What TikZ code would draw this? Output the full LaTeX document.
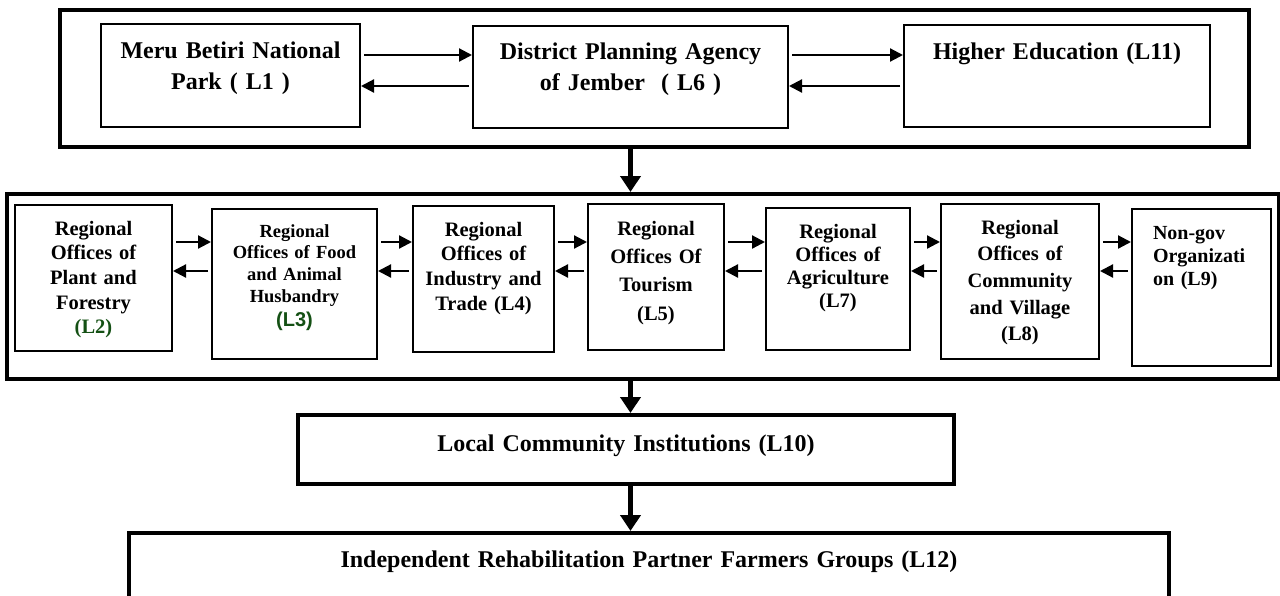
\documentclass[tikz,border=0pt]{standalone}
\usepackage{fontspec}
\setmainfont{Liberation Serif}
\setsansfont{Liberation Sans}
\usepackage{tikz}
\usetikzlibrary{arrows.meta}
\definecolor{dkgreen}{RGB}{20,80,20}

\tikzset{
  unit/.style={draw, line width=2pt, inner sep=0pt, anchor=north west, align=center,
    font=\bfseries\fontsize{20.5}{24.7}\selectfont},
  topunit/.style={unit, font=\bfseries\fontsize{24}{31}\selectfont},
  level/.style={topunit, line width=4pt},
  frame/.style={draw, line width=4pt, inner sep=0pt, anchor=north west},
  link/.style={-{Triangle[length=13pt,width=13pt]}, line width=2.2pt, shorten <=3pt},
  flow/.style={-{Triangle[length=16pt,width=20pt]}, line width=5pt},
}

\begin{document}
\begin{tikzpicture}[x=1pt, y=-1pt]
\clip (0,0) rectangle (1280,595);

% district level
\node[frame, minimum width=1189pt, minimum height=137pt] (national) at (58,8) {};
\node[topunit, text width=259pt, text height=34pt, text depth=69pt] (l1) at (100,23) {Meru Betiri National\\Park ( L1 )};
\node[topunit, text width=315pt, text height=33pt, text depth=69pt] (l6) at (472,25) {District Planning Agency\\of Jember~~( L6 )};
\node[topunit, text width=306pt, text height=34pt, text depth=68pt] (l11) at (903,24) {Higher Education (L11)};

\coordinate (tfwd) at (0,55);
\coordinate (tbwd) at (0,86);
\foreach \a/\b in {l1/l6, l6/l11} {
  \draw[link] (\a.east |- tfwd) -- (\b.west |- tfwd);
  \draw[link] (\b.west |- tbwd) -- (\a.east |- tbwd);
}

% regional offices
\node[frame, minimum width=1272pt, minimum height=185pt] (regional) at (5,192) {};
\node[unit, text width=157pt, text height=30pt, text depth=116pt] (l2) at (14,204) {Regional\\Offices of\\Plant and\\Forestry\\{\color{dkgreen}(L2)}};
\node[unit, text width=165pt, text height=28pt, text depth=122pt, font=\bfseries\fontsize{18.5}{21.7}\selectfont] (l3) at (211,208) {Regional\\Offices of Food\\and Animal\\Husbandry\\[3pt]{\color{dkgreen}\sffamily\fontsize{20}{24}\selectfont(L3)}};
\node[unit, text width=141pt, text height=30pt, text depth=116pt] (l4) at (412,205) {Regional\\Offices of\\Industry and\\Trade (L4)};
\node[unit, text width=136pt, text height=31pt, text depth=115pt, font=\bfseries\fontsize{20.5}{28.4}\selectfont] (l5) at (587,203) {Regional\\Offices Of\\Tourism\\(L5)};
\node[unit, text width=144pt, text height=30pt, text depth=112pt, font=\bfseries\fontsize{20.5}{23.3}\selectfont] (l7) at (765,207) {Regional\\Offices of\\Agriculture\\(L7)};
\node[unit, text width=158pt, text height=30pt, text depth=125pt, font=\bfseries\fontsize{20.5}{26.7}\selectfont] (l8) at (940,203) {Regional\\Offices of\\Community\\and Village\\(L8)};
\node[unit, align=left, inner xsep=21pt, text width=97pt, text height=30pt, text depth=127pt, font=\bfseries\fontsize{20}{23}\selectfont] (l9) at (1131,208) {Non-gov\\Organizati\\on (L9)};

\coordinate (fwd) at (0,242);
\coordinate (bwd) at (0,271);
\foreach \a/\b in {l2/l3, l3/l4, l4/l5, l5/l7, l7/l8, l8/l9} {
  \draw[link] (\a.east |- fwd) -- (\b.west |- fwd);
  \draw[link] (\b.west |- bwd) -- (\a.east |- bwd);
}

% community and farmers
\node[level, text width=656pt, text height=36pt, text depth=33pt] (l10) at (296,413) {Local Community Institutions (L10)};
\node[level, text width=1040pt, text height=34pt, text depth=100pt] (l12) at (127,531) {Independent Rehabilitation Partner Farmers Groups (L12)};

% main flow
\draw[flow] (l6.south |- national.south) -- (l6.south |- regional.north);
\draw[flow] (l6.south |- regional.south) -- (l6.south |- l10.north);
\draw[flow] (l6.south |- l10.south) -- (l6.south |- l12.north);
\end{tikzpicture}
\end{document}
